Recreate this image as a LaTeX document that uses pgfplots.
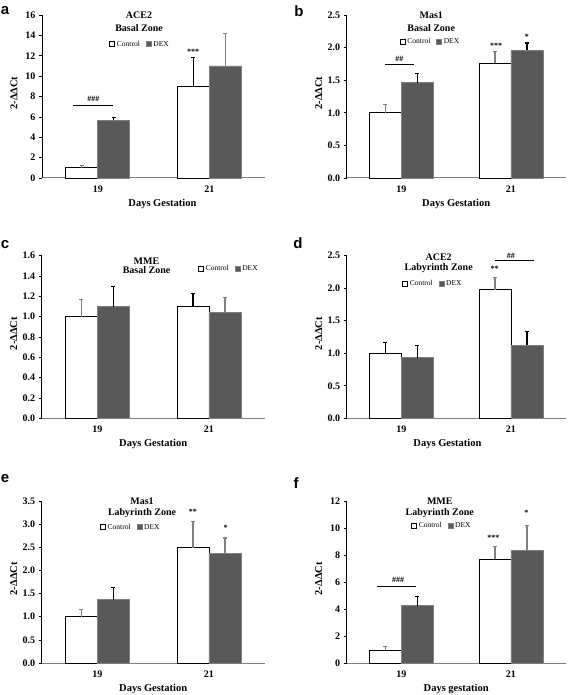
\documentclass[border=0pt]{standalone}
\usepackage{pgfplots}
\pgfplotsset{compat=1.18}
\usepackage{fontspec}
\setmainfont{Liberation Serif}
\newfontfamily\labfont{Liberation Sans}
\definecolor{dexfill}{RGB}{89,89,89}
\definecolor{edgegray}{RGB}{128,128,128}
\tikzset{
 ttl/.style={font=\bfseries\fontsize{10}{11}\selectfont},
 sig/.style={font=\bfseries\fontsize{8}{9}\selectfont},
}
\pgfplotsset{
 panel/.style={
  scale only axis, anchor=south west,
  ybar, bar width=32pt,
  xmin=-0.5, xmax=1.5, xtick={0,1}, xticklabels={19,21},
  axis x line*=bottom, axis y line*=left,
  x axis line style={-, draw=edgegray, line width=1pt},
  y axis line style={-, draw=black, line width=0.6pt},
  x tick style={draw=none},
  y tick style={draw=black, line width=0.6pt},
  tick align=outside, major tick length=3pt,
  ymin=0,
  ticklabel style={font=\bfseries\fontsize{10}{11}\selectfont},
  /pgf/number format/assume math mode=true,
  label style={font=\bfseries\fontsize{10.5}{11}\selectfont},
  ylabel={2-ΔΔCt},
  xlabel={Days Gestation},
  xlabel style={at={(axis description cs:0.5,0)}, anchor=center, yshift=-26pt},
  ylabel style={at={(axis description cs:0,0.52)}, anchor=center, rotate=0, yshift=28pt},
  xticklabel style={yshift=-1.5pt},
  clip=false,
  legend style={draw=none, fill=none, font=\fontsize{7.5}{8}\selectfont, legend columns=2,
    /tikz/every even column/.append style={column sep=4pt}, anchor=center, inner sep=0pt},
  legend image code/.code={\draw[#1, line width=0.5pt] (0pt,-2pt) rectangle (5pt,3pt);},
 },
 ctrl/.style={fill=white, draw=black, line width=0.8pt, bar shift=-16pt},
 dex/.style={fill=dexfill, draw=edgegray, line width=0.8pt, bar shift=16pt},
 eb/.style 2 args={draw=none, fill=none, bar shift=#1, forget plot,
   error bars/.cd, y dir=plus, y explicit,
   error bar style={draw=#2, line width=1.2pt},
   error mark options={rotate=90, mark size=2pt, draw=#2, line width=1.2pt}},
 oneprec/.style={yticklabel style={/pgf/number format/.cd, fixed, fixed zerofill, precision=1}},
}
\begin{document}
\begin{tikzpicture}[x=1pt,y=1pt]
\useasboundingbox (0,0) rectangle (567,695);
\node[font=\labfont\bfseries\fontsize{15}{15}\selectfont] at (5,684) {a};
\node[font=\labfont\bfseries\fontsize{15}{15}\selectfont] at (299,684) {b};
\node[font=\labfont\bfseries\fontsize{15}{15}\selectfont] at (5,450) {c};
\node[font=\labfont\bfseries\fontsize{15}{15}\selectfont] at (298,452) {d};
\node[font=\labfont\bfseries\fontsize{15}{15}\selectfont] at (5,216) {e};
\node[font=\labfont\bfseries\fontsize{15}{15}\selectfont] at (296,212) {f};

% ---- a
\begin{axis}[panel, at={(42pt,517pt)}, width=223pt, height=163pt, ymax=16, ytick={0,2,4,6,8,10,12,14,16},
  legend style={at={(rel axis cs:0.44,0.82)}}, xlabel style={at={(axis description cs:0.54,0)}}]
\addplot[ctrl] coordinates {(0,1.0) (1,9.0)};
\addplot[dex] coordinates {(0,5.65) (1,11.0)};
\legend{Control,DEX}
\addplot[eb={-16pt}{edgegray}] coordinates {(0,1.0) +- (0,0.25)};
\addplot[eb={-16pt}{black}] coordinates {(1,9.0) +- (0,2.8)};
\addplot[eb={16pt}{black}] coordinates {(0,5.65) +- (0,0.3)};
\addplot[eb={16pt}{edgegray}] coordinates {(1,11.0) +- (0,3.2)};
\node[ttl] at (rel axis cs:0.435,1.0) {ACE2};
\node[ttl] at (rel axis cs:0.435,0.92) {Basal Zone};
\draw[line width=0.8pt] (axis cs:-0.22,7.1) -- (axis cs:0.14,7.1);
\node[sig] at (axis cs:-0.04,7.8) {\#\#\#};
\node[sig] at (axis cs:0.855,12.4) {***};
\end{axis}

% ---- b
\begin{axis}[panel, oneprec, at={(346.7pt,517pt)}, width=219pt, height=163pt, ymax=2.5, ytick={0,0.5,1,1.5,2,2.5},
  legend style={at={(rel axis cs:0.383,0.834)}}]
\addplot[ctrl] coordinates {(0,1.0) (1,1.76)};
\addplot[dex] coordinates {(0,1.46) (1,1.96)};
\legend{Control,DEX}
\addplot[eb={-16pt}{edgegray}] coordinates {(0,1.0) +- (0,0.13)};
\addplot[eb={-16pt}{edgegray}] coordinates {(1,1.76) +- (0,0.18)};
\addplot[eb={16pt}{black}] coordinates {(0,1.46) +- (0,0.14)};
\addplot[eb={16pt}{black}] coordinates {(1,1.96) +- (0,0.11)};
\node[ttl] at (rel axis cs:0.386,1.0) {Mas1};
\node[ttl] at (rel axis cs:0.386,0.92) {Basal Zone};
\draw[line width=0.8pt] (axis cs:-0.15,1.74) -- (axis cs:0.11,1.74);
\node[sig] at (axis cs:-0.02,1.83) {\#\#};
\node[sig] at (axis cs:0.865,2.02) {***};
\node[sig] at (axis cs:1.145,2.17) {*};
\end{axis}

% ---- c
\begin{axis}[panel, oneprec, at={(41.7pt,276.7pt)}, width=223pt, height=162.6pt, ymax=1.6, ytick={0,0.2,0.4,0.6,0.8,1.0,1.2,1.4,1.6},
  legend style={at={(rel axis cs:0.84,0.918)}}]
\addplot[ctrl] coordinates {(0,1.0) (1,1.10)};
\addplot[dex] coordinates {(0,1.10) (1,1.04)};
\legend{Control,DEX}
\addplot[eb={-16pt}{edgegray}] coordinates {(0,1.0) +- (0,0.17)};
\addplot[eb={-16pt}{black}] coordinates {(1,1.10) +- (0,0.13)};
\addplot[eb={16pt}{black}] coordinates {(0,1.10) +- (0,0.20)};
\addplot[eb={16pt}{edgegray}] coordinates {(1,1.04) +- (0,0.15)};
\node[ttl] at (rel axis cs:0.47,0.965) {MME};
\node[ttl] at (rel axis cs:0.47,0.912) {Basal Zone};
\end{axis}

% ---- d
\begin{axis}[panel, oneprec, at={(346.7pt,276.7pt)}, width=219pt, height=162.6pt, ymax=2.5, ytick={0,0.5,1,1.5,2,2.5},
  legend style={at={(rel axis cs:0.394,0.826)}}, xlabel style={at={(axis description cs:0.46,0)}}]
\addplot[ctrl] coordinates {(0,1.0) (1,1.98)};
\addplot[dex] coordinates {(0,0.93) (1,1.12)};
\legend{Control,DEX}
\addplot[eb={-16pt}{black}] coordinates {(0,1.0) +- (0,0.17)};
\addplot[eb={-16pt}{edgegray}] coordinates {(1,1.98) +- (0,0.19)};
\addplot[eb={16pt}{black}] coordinates {(0,0.93) +- (0,0.19)};
\addplot[eb={16pt}{black}] coordinates {(1,1.12) +- (0,0.21)};
\node[ttl] at (rel axis cs:0.42,0.993) {ACE2};
\node[ttl] at (rel axis cs:0.42,0.925) {Labyrinth Zone};
\draw[line width=0.8pt] (axis cs:0.85,2.43) -- (axis cs:1.21,2.43);
\node[sig] at (axis cs:1.0,2.49) {\#\#};
\node[sig] at (axis cs:0.85,2.30) {**};
\end{axis}

% ---- e
\begin{axis}[panel, oneprec, at={(41.7pt,32pt)}, width=223pt, height=162pt, ymax=3.5, ytick={0,0.5,1,1.5,2,2.5,3,3.5},
  legend style={at={(rel axis cs:0.40,0.835)}}]
\addplot[ctrl] coordinates {(0,1.0) (1,2.49)};
\addplot[dex] coordinates {(0,1.37) (1,2.37)};
\legend{Control,DEX}
\addplot[eb={-16pt}{edgegray}] coordinates {(0,1.0) +- (0,0.15)};
\addplot[eb={-16pt}{edgegray}] coordinates {(1,2.49) +- (0,0.56)};
\addplot[eb={16pt}{black}] coordinates {(0,1.37) +- (0,0.26)};
\addplot[eb={16pt}{edgegray}] coordinates {(1,2.37) +- (0,0.33)};
\node[ttl] at (rel axis cs:0.45,1.0) {Mas1};
\node[ttl] at (rel axis cs:0.45,0.928) {Labyrinth Zone};
\node[sig] at (axis cs:0.855,3.27) {**};
\node[sig] at (axis cs:1.15,2.91) {*};
\end{axis}

% ---- f
\begin{axis}[panel, at={(346.7pt,32pt)}, width=219pt, height=162pt, ymax=12, ytick={0,2,4,6,8,10,12},
  legend style={at={(rel axis cs:0.435,0.847)}}, xlabel={Days gestation}]
\addplot[ctrl] coordinates {(0,0.97) (1,7.7)};
\addplot[dex] coordinates {(0,4.25) (1,8.35)};
\legend{Control,DEX}
\addplot[eb={-16pt}{edgegray}] coordinates {(0,0.97) +- (0,0.23)};
\addplot[eb={-16pt}{edgegray}] coordinates {(1,7.7) +- (0,0.95)};
\addplot[eb={16pt}{black}] coordinates {(0,4.25) +- (0,0.65)};
\addplot[eb={16pt}{edgegray}] coordinates {(1,8.35) +- (0,1.85)};
\node[ttl] at (rel axis cs:0.425,1.0) {MME};
\node[ttl] at (rel axis cs:0.425,0.928) {Labyrinth Zone};
\draw[line width=0.8pt] (axis cs:-0.22,5.7) -- (axis cs:0.13,5.7);
\node[sig] at (axis cs:-0.03,6.15) {\#\#\#};
\node[sig] at (axis cs:0.84,9.3) {***};
\node[sig] at (axis cs:1.14,11.1) {*};
\end{axis}
\end{tikzpicture}
\end{document}
